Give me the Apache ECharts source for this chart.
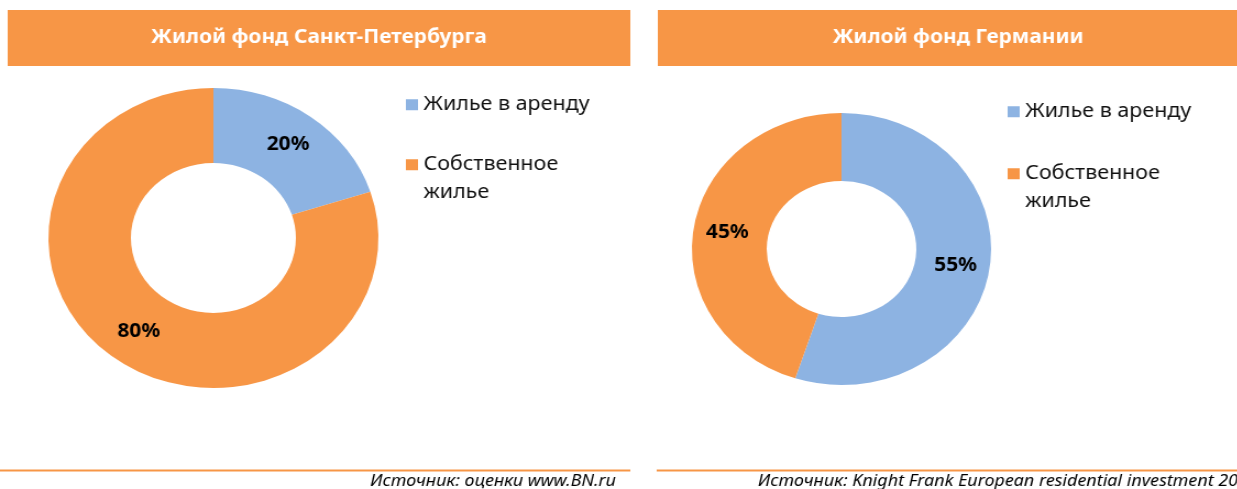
<!DOCTYPE html>
<html lang="ru">
<head>
	<meta charset="UTF-8">
	<title>Жилой фонд</title>
	<style>
		html, body { margin: 0; padding: 0; background: #fff; overflow: hidden; }
		/* исходная картинка растянута по горизонтали примерно в 1.1 раза */
		#main { width: 1125px; height: 489px; transform: scaleX(1.1); transform-origin: 0 0; }
	</style>
</head>
<body>
	<div id="main"></div>
	<script src="https://cdn.jsdelivr.net/npm/echarts@6/dist/echarts.min.js"></script>
	<script>
		// данные
		var categories = ['Жилье в аренду', 'Собственное жилье'];
		var spbValues = [20, 80];
		var deValues = [55, 45];
		var titles = ['Жилой фонд Санкт-Петербурга', 'Жилой фонд Германии'];
		var sources = ['Источник: оценки www.BN.ru', 'Источник: Knight Frank European residential investment 2007'];

		var colors = ['#8DB3E2', '#F79646'];
		var font = '"Noto Sans", sans-serif';

		function toData(values) {
			return values.map(function (v, i) {
				return { name: categories[i], value: v, itemStyle: { color: colors[i] } };
			});
		}

		// пустая первая строка, чтобы квадратик стоял напротив "Собственное"
		function legendFormatter(name) {
			return name === categories[1] ? '\nСобственное\nжилье' : name;
		}

		function makeLegend(left, top, gap) {
			return {
				orient: 'vertical',
				left: left,
				top: top,
				padding: 0,
				itemWidth: 11,
				itemHeight: 11,
				itemGap: gap,
				itemTextGap: 7,
				icon: 'rect',
				selectedMode: false,
				data: categories,
				formatter: legendFormatter,
				textStyle: { fontFamily: font, fontSize: 19.5, lineHeight: 27.5, color: '#111' }
			};
		}

		function makePie(center, radius, values) {
			return {
				type: 'pie',
				center: center,
				radius: radius,
				startAngle: 90,
				clockwise: true,
				animation: false,
				emphasis: { disabled: true },
				label: {
					show: true,
					position: 'inside',
					formatter: '{c}%',
					fontFamily: font,
					fontWeight: 'bold',
					fontSize: 19,
					color: '#000'
				},
				labelLine: { show: false },
				data: toData(values)
			};
		}

		var myChart = echarts.init(document.getElementById('main'));

		myChart.setOption({
			animation: false,
			legend: [
				makeLegend(369, 91, 5),
				makeLegend(916, 98, 7)
			],
			graphic: [
				{ type: 'rect', shape: { x: 7, y: 10, width: 566, height: 56 }, style: { fill: '#F79646' } },
				{ type: 'rect', shape: { x: 598, y: 10, width: 546, height: 56 }, style: { fill: '#F79646' } },
				{ type: 'text', x: 290, y: 38, style: { text: titles[0], fill: '#fff', font: 'bold 19px ' + font, align: 'center', verticalAlign: 'middle' } },
				{ type: 'text', x: 871, y: 38, style: { text: titles[1], fill: '#fff', font: 'bold 19px ' + font, align: 'center', verticalAlign: 'middle' } },
				{ type: 'line', shape: { x1: 0, y1: 470.5, x2: 573, y2: 470.5 }, style: { stroke: '#F79646', lineWidth: 2 } },
				{ type: 'line', shape: { x1: 597, y1: 470.5, x2: 1125, y2: 470.5 }, style: { stroke: '#F79646', lineWidth: 2 } },
				{ type: 'text', x: 560, y: 481, style: { text: sources[0], fill: '#000', font: 'italic 16.3px ' + font, align: 'right', verticalAlign: 'middle' } },
				{ type: 'text', x: 689, y: 481, style: { text: sources[1], fill: '#000', font: 'italic 16.3px ' + font, align: 'left', verticalAlign: 'middle' } }
			],
			series: [
				makePie([194, 238], [75, 150], spbValues),
				makePie([765, 249], [68, 136], deValues)
			]
		});
	</script>
</body>
</html>
